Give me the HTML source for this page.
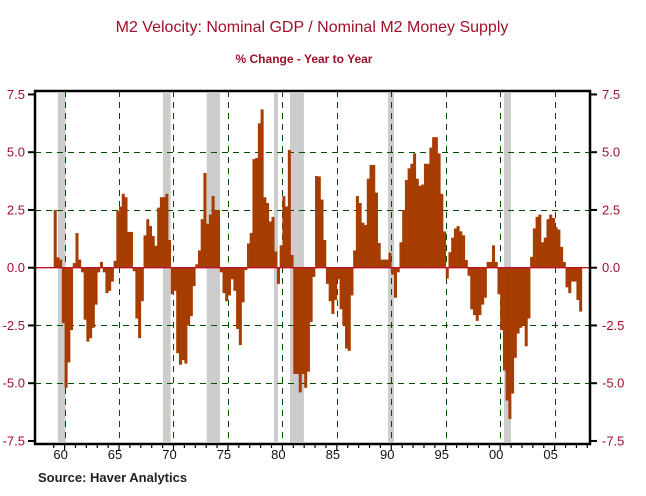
<!DOCTYPE html>
<html><head><meta charset="utf-8"><style>
body{margin:0;background:#fff;width:646px;height:496px;overflow:hidden}
svg{display:block;font-family:"Liberation Sans",Arial,sans-serif}
</style></head><body>
<svg id="chart" width="646" height="496">
<text x="312" y="32" text-anchor="middle" font-size="16" fill="#a0102a">M2 Velocity: Nominal GDP / Nominal M2 Money Supply</text>
<text x="304" y="63" text-anchor="middle" font-size="12" font-weight="bold" fill="#a0102a">% Change - Year to Year</text>
<text x="38" y="482" font-size="13" font-weight="bold" fill="#222">Source: Haver Analytics</text>
<g id="recG"></g><g id="gridG"></g><g id="barG"></g><g id="axG"></g>
</svg>
<script>
const values = [2.5,0.45,0.35,-2.4,-5.2,-4.1,-2.7,0.2,1.5,0.35,-0.2,-2.25,-3.2,-3.05,-2.6,-1.6,-0.2,0.25,-0.2,-1.1,-1.0,-0.6,0.3,2.45,2.65,3.2,3.05,1.55,1.55,-0.15,-2.2,-3.05,-1.45,1.4,2.1,1.8,1.37,0.95,2.6,3.05,3.05,3.2,1.2,-1.15,-1.0,-3.7,
-4.2,-4.0,-4.15,-2.5,-2.1,-0.8,0.15,0.75,2.1,4.1,1.9,2.3,3.1,2.5,2.5,-0.2,-1.1,-1.45,-1.2,-0.5,-1.0,-2.65,-3.35,-1.5,-0.1,1.05,1.5,4.7,4.75,6.25,6.85,3.05,2.8,2.0,2.2,0.7,-0.7,0.97,3.1,2.65,5.1,0.55,
-4.6,-4.6,-5.4,-4.6,-5.2,-4.5,-2.35,-0.4,3.97,3.95,2.95,1.2,-0.7,-1.45,-2.0,-1.4,-0.5,-1.8,-2.5,-3.5,-3.6,-1.2,0.75,3.1,2.8,1.95,1.85,3.85,4.45,4.45,3.25,1.07,0.35,0.35,0.35,0.65,-0.3,-1.3,-0.2,1.1,2.5,3.8,4.3,4.5,4.95,3.85,3.55,
3.6,4.5,4.5,5.2,5.65,5.65,4.95,3.2,1.57,-0.47,0.67,1.3,1.7,1.8,1.57,1.4,0.33,-0.35,-1.8,-2.05,-2.3,-2.05,-1.6,-1.3,0.25,0.25,0.97,0.25,-1.15,-2.7,-4.45,-5.75,-6.55,-5.45,-3.9,-2.85,-2.6,-2.5,-3.4,-2.2,0.47,1.7,2.2,2.3,1.1,1.3,2.1,2.3,2.15,1.75,1.65,0.9,0.25,-0.85,-1.1,-0.6,-0.6,-1.4,-1.9];
const startYear = 1959;
const recStart = [1959.39,1969.04,1973.05,1979.23,1980.7,1989.7,2000.35];
const recEnd = [1960.1,1969.74,1974.27,1979.6,1981.98,1990.25,2000.99];
const yTicks = [-7.5,-5,-2.5,0,2.5,5,7.5];
const yTickLabels = ["-7.5","-5.0","-2.5","0.0","2.5","5.0","7.5"];
const xYears = [1960,1965,1970,1975,1980,1985,1990,1995,2000,2005];
const xLabels = ["60","65","70","75","80","85","90","95","00","05"];

const L=35,R=590,T=91,B=444;
const x = t => 53.7 + (t-1959)*10.89;
const y = v => 267.7 - v*23.1;
const px = v => Math.round(v)+0.5;
const NS="http://www.w3.org/2000/svg";
function mk(tag,attrs,parent){const e=document.createElementNS(NS,tag);for(const k in attrs)e.setAttribute(k,attrs[k]);document.getElementById(parent).appendChild(e);return e;}

recStart.forEach((s,i)=>{
  const r=mk('rect',{x:x(s),y:T+2,width:x(recEnd[i])-x(s),height:B-T-4,fill:'#cccccc'},'recG');
  
  
});
yTicks.forEach(v=>{
  if(v===0||Math.abs(v)===7.5)return;
  const g=mk('line',{x1:L,x2:R,y1:px(y(v)),y2:px(y(v)),stroke:'#005000','stroke-dasharray':'6,5','stroke-width':1,'shape-rendering':'crispEdges'},'gridG');
  
  
});
xYears.forEach(t=>{
  const g=mk('line',{x1:px(x(t)),x2:px(x(t)),y1:T,y2:B,stroke:'#005000','stroke-dasharray':'6,5','stroke-width':1,'shape-rendering':'crispEdges'},'gridG');
  
  
});
const bw=10.89/4;
values.forEach((v,i)=>{
  const t=startYear+i/4;
  const b=mk('rect',{x:x(t),y:Math.min(y(v),y(0)),width:bw+0.3,height:Math.abs(y(v)-y(0)),fill:'#a63c00'},'barG');
  
  
});
const z=mk('line',{x1:L,x2:R,y1:y(0),y2:y(0),stroke:'#c0102a','stroke-width':1.3},'axG');


const fr=mk('rect',{x:L,y:T,width:R-L,height:B-T,fill:'none',stroke:'#000','stroke-width':2.5},'axG');


yTicks.forEach((v,i)=>{
  mk('line',{x1:L-7,x2:L,y1:y(v),y2:y(v),stroke:'#000','stroke-width':2},'axG');
  mk('line',{x1:R,x2:R+7,y1:y(v),y2:y(v),stroke:'#000','stroke-width':2},'axG');
  const a=mk('text',{x:L-10,y:y(v)+4.5,'text-anchor':'end','font-size':13,fill:'#a0102a'},'axG');
  a.textContent=yTickLabels[i];
  
  
  const b=mk('text',{x:R+12,y:y(v)+4.5,'text-anchor':'start','font-size':13,fill:'#a0102a'},'axG');
  b.textContent=yTickLabels[i];
  
  
});
for(let t=1959;t<=2008;t++){
  const big = xYears.includes(t);
  mk('line',{x1:x(t),x2:x(t),y1:B,y2:B+(big?6:4),stroke:'#000','stroke-width':1.2},'axG');
}
xYears.forEach((t,i)=>{
  const a=mk('text',{x:x(t)-4,y:B+15,'text-anchor':'middle','font-size':13,fill:'#111'},'axG');
  a.textContent=xLabels[i];
  
  
});
</script>
</body></html>
